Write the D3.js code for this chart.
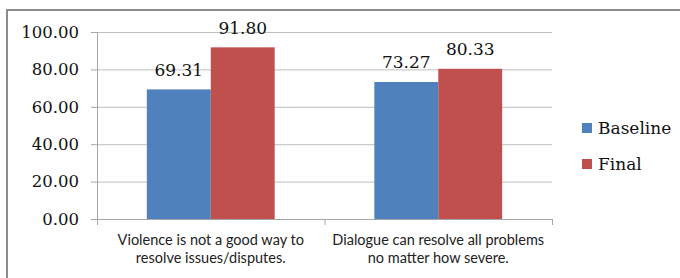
<!DOCTYPE html>
<html lang="en">
  <head>
    <meta charset="utf-8">
    <title>Baseline vs Final</title>
    <style>
      body { margin: 0; background: #fff; }
      .num { font-family: "DejaVu Serif", serif; font-size: 17px; fill: #111; }
      .tick .num { font-size: 16.5px; }
      .cat { font-family: Lato, "Open Sans", sans-serif; font-size: 14.5px; fill: #222; }
    </style>
  </head>
  <body>
    <div id="container"></div>
    <script src="https://cdnjs.cloudflare.com/ajax/libs/d3/7.8.5/d3.min.js"></script>
    <script>
      // chart values
      var categories = ["Violence is not a good way to resolve issues/disputes.",
                        "Dialogue can resolve all problems no matter how severe."];
      var categoryLines = [["Violence is not a good way to", "resolve issues/disputes."],
                           ["Dialogue can resolve all problems", "no matter how severe."]];
      var series = ["Baseline", "Final"];
      var baselineVals = [69.31, 73.27];
      var finalVals = [91.80, 80.33];
      var yTicks = [0, 20, 40, 60, 80, 100];
      var colors = ["#4f81bd", "#c0504d"];

      var w = 680, h = 278;
      var plotLeft = 97, plotRight = 552, plotTop = 32, plotBottom = 219;

      var svg = d3.select("#container").append("svg")
        .attr("width", w)
        .attr("height", h);

      // outer frame (right and bottom edges run off the picture)
      svg.append("rect")
        .attr("x", 7).attr("y", 10)
        .attr("width", 700).attr("height", 300)
        .attr("fill", "none")
        .attr("stroke", "#8c8c8c")
        .attr("stroke-width", 2);

      var x = d3.scaleBand().domain(categories).range([plotLeft, plotRight]);
      var xInner = d3.scaleBand().domain(series)
        .range([x.bandwidth() * 0.219, x.bandwidth() * 0.781]);
      var y = d3.scaleLinear().domain([0, 100]).range([plotBottom, plotTop]);

      // gridlines
      svg.append("g")
        .attr("transform", "translate(" + plotLeft + ",0)")
        .call(d3.axisLeft(y).tickValues(yTicks).tickSize(-(plotRight - plotLeft)).tickFormat(""))
        .call(function(g) {
          g.select(".domain").remove();
          g.selectAll("line").attr("stroke", "#bfbfbf");
        });

      // y axis
      svg.append("g")
        .attr("transform", "translate(" + plotLeft + ",0)")
        .call(d3.axisLeft(y).tickValues(yTicks).tickSize(6).tickPadding(12)
          .tickFormat(d3.format(".2f")))
        .call(function(g) {
          g.attr("font-family", null).attr("font-size", null);
          g.select(".domain").attr("stroke", "#a6a6a6");
          g.selectAll("line").attr("stroke", "#a6a6a6");
          g.selectAll("text").attr("class", "num");
        });

      var rows = categories.map(function(c, i) {
        return { cat: c, values: [baselineVals[i], finalVals[i]] };
      });

      var groups = svg.selectAll("g.grp")
        .data(rows)
        .enter().append("g")
        .attr("class", "grp")
        .attr("transform", function(d) { return "translate(" + x(d.cat) + ",0)"; });

      groups.selectAll("rect")
        .data(function(d) { return d.values.map(function(v, j) { return { s: series[j], v: v, j: j }; }); })
        .enter().append("rect")
        .attr("x", function(d) { return xInner(d.s); })
        .attr("y", function(d) { return y(d.v); })
        .attr("width", xInner.bandwidth())
        .attr("height", function(d) { return y(0) - y(d.v); })
        .attr("fill", function(d) { return colors[d.j]; });

      groups.selectAll("text.lbl")
        .data(function(d) { return d.values.map(function(v, j) { return { s: series[j], v: v }; }); })
        .enter().append("text")
        .attr("class", "num lbl")
        .attr("text-anchor", "middle")
        .attr("x", function(d) { return xInner(d.s) + xInner.bandwidth() / 2; })
        .attr("y", function(d) { return y(d.v) - 13.5; })
        .text(function(d) { return d3.format(".2f")(d.v); });

      // x axis line and category boundary ticks
      svg.append("line")
        .attr("x1", plotLeft).attr("x2", plotRight)
        .attr("y1", plotBottom + 0.5).attr("y2", plotBottom + 0.5)
        .attr("stroke", "#a6a6a6");
      var bounds = categories.map(function(c) { return x(c); }).concat([plotRight]);
      svg.selectAll("line.xt")
        .data(bounds)
        .enter().append("line")
        .attr("class", "xt")
        .attr("x1", function(d) { return d + 0.5; })
        .attr("x2", function(d) { return d + 0.5; })
        .attr("y1", plotBottom).attr("y2", plotBottom + 6)
        .attr("stroke", "#a6a6a6");

      // category labels
      categories.forEach(function(c, i) {
        var t = svg.append("text")
          .attr("class", "cat")
          .attr("text-anchor", "middle")
          .attr("x", x(c) + x.bandwidth() / 2)
          .attr("y", 245);
        categoryLines[i].forEach(function(line, k) {
          t.append("tspan")
            .attr("x", x(c) + x.bandwidth() / 2)
            .attr("dy", k === 0 ? 0 : 18)
            .text(line);
        });
      });

      // legend
      var legend = svg.selectAll("g.leg")
        .data(series)
        .enter().append("g")
        .attr("class", "leg")
        .attr("transform", function(d, i) { return "translate(582," + (123 + i * 36) + ")"; });
      legend.append("rect")
        .attr("width", 10).attr("height", 10)
        .attr("fill", function(d, i) { return colors[i]; });
      legend.append("text")
        .attr("class", "num")
        .attr("x", 16).attr("y", 11)
        .text(function(d) { return d; });
    </script>
  </body>
</html>
